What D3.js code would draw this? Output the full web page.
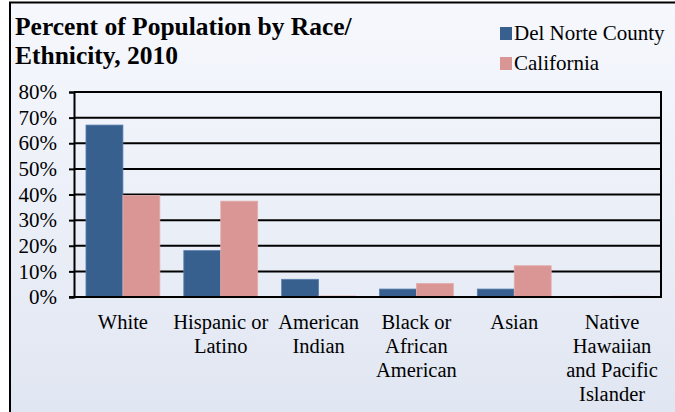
<!DOCTYPE html>
<html>
<head>
<meta charset="utf-8">
<script src="https://cdn.jsdelivr.net/npm/d3@7"></script>
<style>
  html, body { margin: 0; padding: 0; background: #ffffff; }
  svg { display: block; }
  svg text, svg tspan { font-family: 'Liberation Serif', 'Times New Roman', Times, serif !important; fill: #000; }
</style>
</head>
<body>
<svg id="chart" width="675" height="412"></svg>
<script>
// Race / ethnicity shares, 2010 (percent)
const categories = ["White", "Hispanic or Latino", "American Indian",
  "Black or African American", "Asian", "Native Hawaiian and Pacific Islander"];
const categoryLines = [
  ["White"],
  ["Hispanic or", "Latino"],
  ["American", "Indian"],
  ["Black or", "African", "American"],
  ["Asian"],
  ["Native", "Hawaiian", "and Pacific", "Islander"]
];
const seriesNames = ["Del Norte County", "California"];
const delNorte = [67.1, 18.1, 6.9, 3.1, 3.1, 0.1];
const california = [39.6, 37.4, 0.4, 5.3, 12.2, 0.3];
const yTicks = [0, 10, 20, 30, 40, 50, 60, 70, 80];
const titleLines = ["Percent of Population by Race/", "Ethnicity, 2010"];

const colors = ["#37608f", "#d99694"];
const seriesValues = [delNorte, california];
const serif = "'Liberation Serif', 'Times New Roman', Times, serif";

const svg = d3.select("#chart");

// background panel with soft vertical gradient
const defs = svg.append("defs");
const grad = defs.append("linearGradient").attr("id", "bg")
  .attr("x1", 0).attr("y1", 0).attr("x2", 0).attr("y2", 1);
grad.append("stop").attr("offset", "0%").attr("stop-color", "#f6f8fd");
grad.append("stop").attr("offset", "100%").attr("stop-color", "#dfe5f1");

svg.append("rect")
  .attr("x", 10).attr("y", 2.5).attr("width", 700).attr("height", 440)
  .attr("fill", "url(#bg)").attr("stroke", "#000").attr("stroke-width", 2);

// title
const title = svg.append("text").attr("font-weight", "bold").attr("font-size", 25.5)
  .style("font-family", serif);
title.selectAll("tspan").data(titleLines).join("tspan")
  .attr("x", 15).attr("y", (d, i) => 35 + i * 29).text(d => d);

// legend
const legend = svg.append("g");
seriesNames.forEach((name, i) => {
  const g = legend.append("g").attr("transform", `translate(500, ${27 + i * 30})`);
  g.append("rect").attr("width", 12).attr("height", 13).attr("fill", colors[i]);
  g.append("text").attr("x", 14).attr("y", 13).attr("font-size", 21)
    .style("font-family", serif).text(name);
});

// plot area
const plot = { left: 74, right: 661, top: 92, bottom: 297 };

const x = d3.scaleBand().domain(categories)
  .range([plot.left, plot.right]).paddingInner(0.245).paddingOuter(0.1225);
const xs = d3.scaleBand().domain(d3.range(seriesNames.length))
  .range([0, x.bandwidth()]);
const y = d3.scaleLinear().domain([0, 80]).range([plot.bottom, plot.top]);

// horizontal grid lines
svg.append("g").selectAll("line").data(yTicks.filter(d => d > 0)).join("line")
  .attr("x1", plot.left).attr("x2", plot.right)
  .attr("y1", d => y(d)).attr("y2", d => y(d))
  .attr("stroke", "#000").attr("stroke-width", 2);

// right edge of plot
svg.append("line")
  .attr("x1", plot.right).attr("x2", plot.right)
  .attr("y1", plot.top - 1).attr("y2", plot.bottom + 1)
  .attr("stroke", "#000").attr("stroke-width", 2);

// bars
const groups = svg.append("g").selectAll("g").data(categories).join("g")
  .attr("transform", d => `translate(${x(d)},0)`);
groups.selectAll("rect")
  .data((d, ci) => seriesValues.map((vals, si) => ({ si, v: vals[ci] })))
  .join("rect")
  .attr("x", d => xs(d.si))
  .attr("width", xs.bandwidth())
  .attr("y", d => y(d.v))
  .attr("height", d => y(0) - y(d.v))
  .attr("fill", d => colors[d.si])
  .attr("stroke", d => d.si === 0 ? "#5b7fae" : "#e3aeac")
  .attr("stroke-width", 0.8);

// y axis
const yAxis = d3.axisLeft(y).tickValues(yTicks).tickSize(5).tickPadding(12)
  .tickFormat(d => d + "%");
const ya = svg.append("g").attr("transform", `translate(${plot.left},0)`).call(yAxis)
  .attr("font-family", null).attr("font-size", null);
ya.select(".domain").attr("stroke", "#000").attr("stroke-width", 2);
ya.selectAll(".tick line").attr("stroke", "#000").attr("stroke-width", 2);
ya.selectAll(".tick text")
  .style("font-family", serif)
  .attr("font-size", 21).attr("fill", "#000");

// x axis baseline
svg.append("line")
  .attr("x1", plot.left - 5).attr("x2", plot.right + 1)
  .attr("y1", plot.bottom).attr("y2", plot.bottom)
  .attr("stroke", "#000").attr("stroke-width", 2);

// category labels
const labels = svg.append("g").selectAll("text").data(categories).join("text")
  .attr("text-anchor", "middle").attr("font-size", 20.5)
  .style("font-family", serif);
labels.each(function (d, i) {
  d3.select(this).selectAll("tspan").data(categoryLines[i]).join("tspan")
    .attr("x", x(d) + x.bandwidth() / 2)
    .attr("y", (t, j) => 329 + j * 24)
    .text(t => t);
});
</script>
</body>
</html>
